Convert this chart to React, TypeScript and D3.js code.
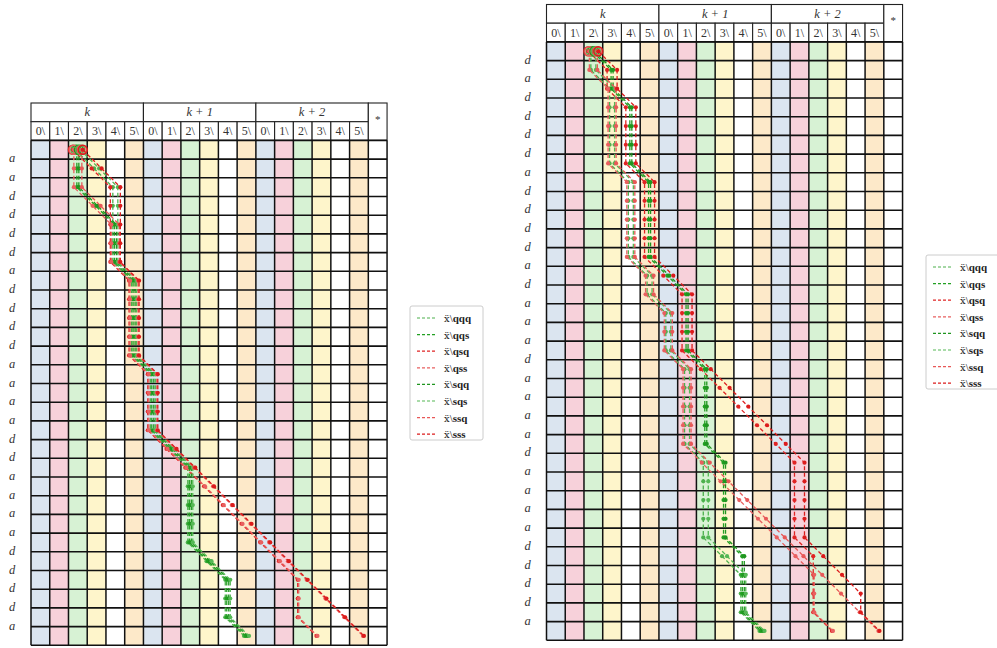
import React from 'react'
import * as d3 from 'd3'

const groups = ['k', 'k + 1', 'k + 2']
const subCols = ['0\\', '1\\', '2\\', '3\\', '4\\', '5\\']
const colFills = ['#dbe5f0', '#f7d1da', '#d7f2d4', '#fef5cb', '#ffffff', '#fde9c9']

const seriesNames = ['qqq', 'qqs', 'qsq', 'qss', 'sqq', 'sqs', 'ssq', 'sss']
const seriesColors = ['#4cb04c', '#22a022', '#e02424', '#e86060', '#1f951f', '#55b855', '#e85858', '#dc1c1c']
const seriesShift = [-2.5, -1, -5, -4, 1, 2.5, 4, 5]

// row labels sit on the row boundaries
const leftLabels = ['a', 'a', 'd', 'd', 'd', 'd', 'a', 'd', 'd', 'd', 'd', 'a', 'a', 'a', 'a', 'd', 'd', 'a', 'a', 'a', 'a', 'd', 'd', 'd', 'd', 'a']
const rightLabels = ['d', 'a', 'd', 'd', 'd', 'd', 'a', 'd', 'd', 'd', 'd', 'a', 'd', 'a', 'a', 'a', 'd', 'a', 'a', 'a', 'a', 'd', 'a', 'a', 'a', 'a', 'd', 'd', 'd', 'd', 'a']

// column visited in each row (row = index), columns 0..17 across k, k+1, k+2
const leftQqq = [2, 3, 4, 4, 4, 4, 4, 5, 5, 5, 5, 5, 6, 6, 6, 6, 7, 8, 8, 8, 8, 8, 9, 10, 10, 10, 11]
const leftQqs = [2, 2, 2, 3, 4, 4, 4, 5, 5, 5, 5, 5, 6, 6, 6, 6, 7, 8, 8, 8, 8, 8, 9, 10, 10, 10, 11]
const leftQsq = [2, 3, 4, 4, 4, 4, 4, 5, 5, 5, 5, 5, 6, 6, 6, 6, 7, 8, 9, 10, 11, 12, 13, 14, 14, 14, 15]
const leftQss = [2, 2, 2, 3, 4, 4, 4, 5, 5, 5, 5, 5, 6, 6, 6, 6, 7, 8, 9, 10, 11, 12, 13, 14, 14, 14, 15]
const leftSqq = [2, 2, 2, 3, 4, 4, 4, 5, 5, 5, 5, 5, 6, 6, 6, 6, 7, 8, 8, 8, 8, 8, 9, 10, 10, 10, 11]
const leftSqs = [2, 3, 4, 4, 4, 4, 4, 5, 5, 5, 5, 5, 6, 6, 6, 6, 7, 8, 8, 8, 8, 8, 9, 10, 10, 10, 11]
const leftSsq = [2, 2, 2, 3, 4, 4, 4, 5, 5, 5, 5, 5, 6, 6, 6, 6, 7, 8, 9, 10, 11, 12, 13, 14, 15, 16, 17]
const leftSss = [2, 3, 4, 4, 4, 4, 4, 5, 5, 5, 5, 5, 6, 6, 6, 6, 7, 8, 9, 10, 11, 12, 13, 14, 15, 16, 17]

const rightQqq = [2, 2, 3, 3, 3, 3, 3, 4, 4, 4, 4, 4, 5, 5, 6, 6, 6, 7, 7, 7, 7, 7, 8, 8, 8, 8, 8, 9, 10, 10, 10, 11]
const rightQqs = [2, 3, 3, 4, 4, 4, 4, 5, 5, 5, 5, 5, 6, 7, 7, 7, 7, 8, 8, 8, 8, 8, 9, 9, 9, 9, 9, 10, 10, 10, 10, 11]
const rightQsq = [2, 3, 3, 4, 4, 4, 4, 5, 5, 5, 5, 5, 6, 7, 7, 7, 7, 8, 9, 10, 11, 12, 13, 13, 13, 13, 13, 14, 14, 14, 14, 15]
const rightQss = [2, 2, 3, 3, 3, 3, 3, 4, 4, 4, 4, 4, 5, 5, 6, 6, 6, 7, 7, 7, 7, 7, 8, 9, 10, 11, 12, 13, 14, 14, 14, 15]
const rightSqq = [2, 3, 3, 4, 4, 4, 4, 5, 5, 5, 5, 5, 6, 7, 7, 7, 7, 8, 8, 8, 8, 8, 9, 9, 9, 9, 9, 10, 10, 10, 10, 11]
const rightSqs = [2, 2, 3, 3, 3, 3, 3, 4, 4, 4, 4, 4, 5, 5, 6, 6, 6, 7, 7, 7, 7, 7, 8, 8, 8, 8, 8, 9, 10, 10, 10, 11]
const rightSsq = [2, 2, 3, 3, 3, 3, 3, 4, 4, 4, 4, 4, 5, 5, 6, 6, 6, 7, 7, 7, 7, 7, 8, 9, 10, 11, 12, 13, 14, 15, 16, 17]
const rightSss = [2, 3, 3, 4, 4, 4, 4, 5, 5, 5, 5, 5, 6, 7, 7, 7, 7, 8, 9, 10, 11, 12, 13, 13, 13, 13, 13, 14, 15, 16, 16, 17]

const leftSeries = [leftQqq, leftQqs, leftQsq, leftQss, leftSqq, leftSqs, leftSsq, leftSss]
const rightSeries = [rightQqq, rightQqs, rightQsq, rightQss, rightSqq, rightSqs, rightSsq, rightSss]

const FONT = "'Liberation Serif', 'DejaVu Serif', serif"
const CW = 18.74
const RH = 18.7

interface GridProps {
  left: number
  top: number
  labels: string[]
  series: number[][]
  legendX: number
  legendY: number
}

const Grid: React.FC<GridProps> = ({ left, top, labels, series, legendX, legendY }) => {
  const nRows = labels.length + 1
  const dataTop = top + 2 * RH
  const x = d3.scaleLinear().domain([0, 19]).range([left, left + 19 * CW])
  const y = d3.scaleLinear().domain([0, nRows]).range([dataTop, dataTop + nRows * RH])
  const bottom = y(nRows)
  const line = d3
    .line<number>()
    .x((c) => x(c + 0.5))
    .y((_, i) => y(i + 0.5))

  const cells: React.ReactNode[] = []
  for (let r = 0; r < nRows; r++) {
    for (let c = 0; c < 19; c++) {
      cells.push(
        <rect
          key={`c${r}-${c}`}
          x={x(c)}
          y={y(r)}
          width={CW}
          height={RH}
          fill={c < 18 ? colFills[c % 6] : '#ffffff'}
        />
      )
    }
  }

  return (
    <g fontFamily={FONT}>
      {cells}
      {/* header */}
      {groups.map((g, gi) => (
        <g key={g}>
          <rect x={x(gi * 6)} y={top} width={6 * CW} height={RH} fill="#fff" stroke="#222" strokeWidth={1.1} />
          <text x={x(gi * 6 + 3)} y={top + RH / 2 + 4} textAnchor="middle" fontSize={12.5} fontStyle="italic" fill="#333">
            {g}
          </text>
        </g>
      ))}
      {d3.range(18).map((c) => (
        <g key={`h${c}`}>
          <rect x={x(c)} y={top + RH} width={CW} height={RH} fill="#fff" stroke="#222" strokeWidth={1.1} />
          <text x={x(c + 0.5)} y={top + 1.5 * RH + 4} textAnchor="middle" fontSize={12} fill="#333">
            {subCols[c % 6]}
          </text>
        </g>
      ))}
      <rect x={x(18)} y={top} width={CW} height={2 * RH} fill="#fff" stroke="#222" strokeWidth={1.1} />
      <text x={x(18.5)} y={top + RH * 0.85 + 4} textAnchor="middle" fontSize={11} fill="#333">
        *
      </text>
      {/* data grid */}
      {d3.range(nRows + 1).map((r) => (
        <line key={`hl${r}`} x1={x(0)} x2={x(19)} y1={y(r)} y2={y(r)} stroke="#111" strokeWidth={1.6} />
      ))}
      {d3.range(20).map((c) => (
        <line key={`vl${c}`} x1={x(c)} x2={x(c)} y1={dataTop} y2={bottom} stroke="#111" strokeWidth={1.5} />
      ))}
      {/* row labels */}
      {labels.map((l, i) => (
        <text key={`l${i}`} x={left - 19} y={y(i + 1) + 3} textAnchor="middle" fontSize={12.5} fontStyle="italic" fill="#333">
          {l}
        </text>
      ))}
      {/* series */}
      {series.map((s, si) => (
        <g key={seriesNames[si]} transform={`translate(${seriesShift[si]},0)`}>
          <path d={line(s) ?? ''} fill="none" stroke={seriesColors[si]} strokeWidth={1.3} strokeDasharray="4,2.5" />
          {s.map((c, i) => (
            <circle key={i} cx={x(c + 0.5)} cy={y(i + 0.5)} r={2.1} fill={seriesColors[si]} />
          ))}
          <circle cx={x(s[0] + 0.5)} cy={y(0.5)} r={4.5} fill="none" stroke={seriesColors[si]} strokeWidth={1.3} />
        </g>
      ))}
      {/* legend */}
      <g transform={`translate(${legendX},${legendY})`}>
        <rect x={0} y={0} width={73} height={134} rx={2} fill="#fff" stroke="#ccc" strokeWidth={1} />
        {seriesNames.map((n, i) => (
          <g key={n} transform={`translate(0,${12 + i * 16.6})`}>
            <line x1={7} x2={27} y1={0} y2={0} stroke={seriesColors[i]} strokeWidth={1.2} strokeDasharray="3,2" />
            <text x={34} y={4} fontSize={11} fill="#222">
              <tspan fontFamily="'DejaVu Serif', serif" fontSize={10}>{'x\u0308'}</tspan>\<tspan fontWeight="bold">{n}</tspan>
            </text>
          </g>
        ))}
      </g>
    </g>
  )
}

export default function App() {
  return (
    <svg width={997} height={648} style={{ position: 'absolute', left: 0, top: 0, background: '#fff' }}>
      <Grid left={31} top={103} labels={leftLabels} series={leftSeries} legendX={410} legendY={306} />
      <Grid left={546.5} top={4.5} labels={rightLabels} series={rightSeries} legendX={926} legendY={255} />
    </svg>
  )
}
